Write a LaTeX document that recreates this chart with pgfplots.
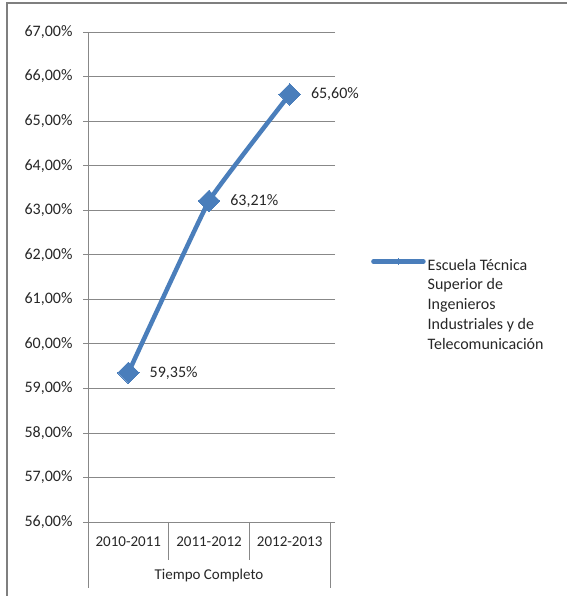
\documentclass[border=0pt]{standalone}
\usepackage{fontspec}
\setmainfont{Carlito}
\usepackage{pgfplots}
\pgfplotsset{compat=1.18}
\definecolor{serie}{HTML}{4A7EBB}
\definecolor{gridc}{HTML}{888888}
\definecolor{framec}{HTML}{7F7F7F}
\definecolor{txt}{HTML}{262626}
\newcommand{\cf}{\fontsize{15}{19.7}\selectfont}
\newcommand{\lf}{\fontsize{16}{19.7}\selectfont}
\begin{document}
\begin{tikzpicture}
\useasboundingbox (0,0) rectangle (566pt,596pt);
\draw[framec, line width=1.6pt] (7pt,-5pt) -- (7pt,593pt) -- (570pt,593pt);
\begin{axis}[
  at={(88pt,74pt)}, anchor=south west,
  scale only axis, width=242pt, height=490pt,
  xmin=0.5, xmax=3.5, ymin=56, ymax=67,
  clip=false,
  axis line style={draw=none},
  xtick={1,2,3}, xticklabels={2010-2011,2011-2012,2012-2013},
  x tick style={draw=none},
  ytick={56,57,...,67},
  yticklabels={{56,00\%},{57,00\%},{58,00\%},{59,00\%},{60,00\%},{61,00\%},{62,00\%},{63,00\%},{64,00\%},{65,00\%},{66,00\%},{67,00\%}},
  y tick style={gridc, line width=0.8pt},
  tick align=outside, major tick length=5pt,
  ymajorgrids, grid style={gridc, line width=0.8pt},
  /pgf/number format/assume math mode=true,
  ticklabel style={font=\cf, text=txt},
  xticklabel style={yshift=-6pt},
  yticklabel style={font=\lf, xshift=-7pt},
  legend style={at={(axis description cs:1,0.545)}, anchor=north west, xshift=38pt,
    draw=none, fill=none, font=\lf, text=txt},
  legend cell align=left,
  legend image code/.code={\draw[#1, mark=none] (0pt,4pt) -- (50pt,4pt);
     \draw[#1, mark size=2pt] plot coordinates {(25pt,4pt)};},
  nodes near coords,
  point meta=explicit symbolic,
  every node near coord/.append style={anchor=west, xshift=18pt, yshift=0pt, font=\lf, text=txt},
]
\addplot[serie, line width=4.5pt, line cap=round, smooth, tension=0.15,
  mark=square*, mark size=7.6pt, mark options={rotate=45, line width=0pt, fill=serie}]
  coordinates {(1,59.35) [59,35\%] (2,63.21) [63,21\%] (3,65.60) [65,60\%]};
\addlegendentry{\parbox[t]{150pt}{\raggedright\lf Escuela Técnica\\Superior de\\Ingenieros\\Industriales y de\\Telecomunicación}}
\draw[gridc, line width=0.8pt] (axis cs:0.5,56) -- (axis cs:0.5,67);
\draw[gridc, line width=0.8pt] ([xshift=-5pt]axis cs:0.5,56) -- (axis cs:3.5,56);
\draw[gridc, line width=0.8pt] (axis cs:0.5,56) -- ([yshift=-66pt]axis cs:0.5,56);
\draw[gridc, line width=0.8pt] (axis cs:3.5,56) -- ([yshift=-66pt]axis cs:3.5,56);
\draw[gridc, line width=0.8pt] (axis cs:1.5,56) -- ([yshift=-38pt]axis cs:1.5,56);
\draw[gridc, line width=0.8pt] (axis cs:2.5,56) -- ([yshift=-38pt]axis cs:2.5,56);
\node[font=\cf, text=txt] at ([yshift=-54pt]axis cs:2,56) {Tiempo Completo};
\end{axis}
\end{tikzpicture}
\end{document}
